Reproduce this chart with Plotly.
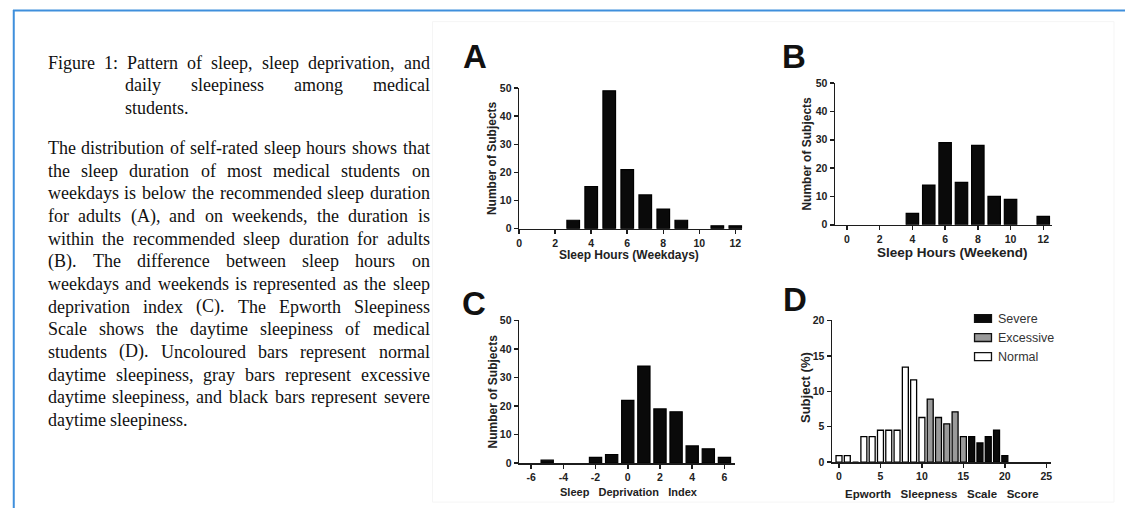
import plotly.graph_objects as go

W, H = 1126, 514

# ---------------- data ----------------
weekday_hours = [3, 4, 5, 6, 7, 8, 9, 11, 12]
weekday_counts = [3, 15, 49, 21, 12, 7, 3, 1, 1]

weekend_hours = [4, 5, 6, 7, 8, 9, 10, 12]
weekend_counts = [4, 14, 29, 15, 28, 10, 9, 3]

deprivation_index = [-5, -2, -1, 0, 1, 2, 3, 4, 5, 6]
deprivation_counts = [1, 2, 3, 22, 34, 19, 18, 6, 5, 2]

ess_scores = list(range(0, 21))
ess_percent = [0.9, 0.9, 0.0, 3.6, 3.6, 4.5, 4.5, 4.5, 13.4, 11.6, 6.3,
               8.9, 6.3, 5.4, 7.1, 3.6, 3.6, 2.7, 3.6, 4.5, 0.9]
ess_category = (["Normal"] * 11) + (["Excessive"] * 5) + (["Severe"] * 5)

legend_labels = ["Severe", "Excessive", "Normal"]
category_fill = {"Severe": "#0a0a0a", "Excessive": "#9a9a9a", "Normal": "#ffffff"}

ticks_hours = [0, 2, 4, 6, 8, 10, 12]
ticks_dep = [-6, -4, -2, 0, 2, 4, 6]
ticks_ess = [0, 5, 10, 15, 20, 25]
ticks_count = [0, 10, 20, 30, 40, 50]
ticks_pct = [0, 5, 10, 15, 20]

caption_para1 = [
    "Figure 1: Pattern of sleep, sleep deprivation, and",
    "daily sleepiness among medical",
    "students.",
]
caption_para2 = [
    "The distribution of self-rated sleep hours shows that",
    "the sleep duration of most medical students on",
    "weekdays is below the recommended sleep duration",
    "for adults (A), and on weekends, the duration is",
    "within the recommended sleep duration for adults",
    "(B). The difference between sleep hours on",
    "weekdays and weekends is represented as the sleep",
    "deprivation index (C). The Epworth Sleepiness",
    "Scale shows the daytime sleepiness of medical",
    "students (D). Uncoloured bars represent normal",
    "daytime sleepiness, gray bars represent excessive",
    "daytime sleepiness, and black bars represent severe",
    "daytime sleepiness.",
]

# ---------------- helpers ----------------
def fx(px):
    return px / W

def fy(py):
    return 1 - py / H

SANS = "Liberation Sans"
SERIF = "Liberation Serif"
INK = "#1c1c1c"

# Times-Roman advance widths (1/1000 em) for justification
TW = {' ': 250, '(': 333, ')': 333, ',': 250, '-': 333, '.': 250, ':': 278,
      '0': 500, '1': 500, '2': 500, '3': 500, '4': 500, '5': 500, '6': 500,
      '7': 500, '8': 500, '9': 500,
      'A': 722, 'B': 667, 'C': 667, 'D': 722, 'E': 611, 'F': 556, 'G': 722,
      'H': 722, 'I': 333, 'J': 389, 'K': 722, 'L': 611, 'M': 889, 'N': 722,
      'O': 722, 'P': 556, 'Q': 722, 'R': 667, 'S': 556, 'T': 611, 'U': 722,
      'V': 722, 'W': 944, 'X': 722, 'Y': 722, 'Z': 611,
      'a': 444, 'b': 500, 'c': 444, 'd': 500, 'e': 444, 'f': 333, 'g': 500,
      'h': 500, 'i': 278, 'j': 278, 'k': 500, 'l': 278, 'm': 778, 'n': 500,
      'o': 500, 'p': 500, 'q': 500, 'r': 333, 's': 389, 't': 278, 'u': 500,
      'v': 500, 'w': 722, 'x': 500, 'y': 500, 'z': 444}

def word_width(word, fs):
    return sum(TW.get(c, 500) for c in word) * fs / 1000.0

annotations = []
shapes = []

FS_TEXT = 18

def add_line(text, left, right, baseline, justify):
    words = text.split()
    widths = [word_width(w, FS_TEXT) for w in words]
    if justify and len(words) > 1:
        gap = (right - left - sum(widths)) / (len(words) - 1)
    else:
        gap = word_width(" ", FS_TEXT)
    x = left
    yc = baseline - 0.3375 * FS_TEXT
    for w, wd in zip(words, widths):
        annotations.append(dict(
            text=w, x=fx(x), y=fy(yc), xref="paper", yref="paper",
            xanchor="left", yanchor="middle", showarrow=False,
            borderpad=0, borderwidth=0,
            font=dict(family=SERIF, size=FS_TEXT, color="#111111")))
        x += wd + gap

LEFT, RIGHT, HANG = 45, 428, 122
LS = 23.2
for i, line in enumerate(caption_para1):
    left = LEFT if i == 0 else HANG
    add_line(line, left, RIGHT, 64 + i * LS, justify=(i < len(caption_para1) - 1))
for i, line in enumerate(caption_para2):
    add_line(line, LEFT, RIGHT, 151.5 + i * LS, justify=(i < len(caption_para2) - 1))

def ann(text, px, py, size, bold=True, angle=0, color="#222222", family=SANS,
        xanchor="center"):
    annotations.append(dict(
        text=text, x=fx(px), y=fy(py), xref="paper", yref="paper",
        xanchor=xanchor, yanchor="middle", showarrow=False, textangle=angle,
        borderpad=0, borderwidth=0,
        font=dict(family=family, size=size, color=color,
                  weight="bold" if bold else "normal")))

# panel letters
ann("A", 474, 51.5, 33, color="#111111")
ann("B", 794, 52, 33, color="#111111")
ann("C", 473, 304.5, 33, color="#111111")
ann("D", 795, 301, 33, color="#111111")

# axis titles
NB = "\u00a0"
ann("Sleep Hours (Weekdays)", 628, 255, 12)
ann("Sleep Hours (Weekend)", 953, 252, 13.5)
ann("Sleep" + NB * 3 + "Deprivation" + NB * 3 + "Index", 628, 497.5, 11)
ann("Epworth" + NB * 3 + "Sleepness" + NB * 3 + "Scale" + NB * 3 + "Score",
    942.5, 500, 11.5)
ann("Number of Subjects", 491.5, 156, 12, angle=-90)
ann("Number of Subjects", 806.5, 151.5, 12, angle=-90)
ann("Number of Subjects", 491.5, 395, 12, angle=-90)
ann("Subject (%)", 806, 391, 13, angle=-90)

# ---------------- figure ----------------
fig = go.Figure()

bar_line = dict(color="#000000", width=1.2)
fig.add_trace(go.Bar(x=weekday_hours, y=weekday_counts, width=0.7,
                     marker=dict(color="#0a0a0a", line=bar_line),
                     xaxis="x", yaxis="y", showlegend=False))
fig.add_trace(go.Bar(x=weekend_hours, y=weekend_counts, width=0.76,
                     marker=dict(color="#0a0a0a", line=bar_line),
                     xaxis="x2", yaxis="y2", showlegend=False))
fig.add_trace(go.Bar(x=deprivation_index, y=deprivation_counts, width=0.76,
                     marker=dict(color="#0a0a0a", line=bar_line),
                     xaxis="x3", yaxis="y3", showlegend=False))
for cat in ["Normal", "Excessive", "Severe"]:
    xs = [s for s, c in zip(ess_scores, ess_category) if c == cat]
    ys = [p for p, c in zip(ess_percent, ess_category) if c == cat]
    fig.add_trace(go.Bar(x=xs, y=ys, width=0.72, name=cat,
                         marker=dict(color=category_fill[cat],
                                     line=dict(color="#000000", width=1.3)),
                         xaxis="x4", yaxis="y4", showlegend=False))

# manual legend (Prism style wide swatches)
for i, lab in enumerate(legend_labels):
    yc = 320 + i * 19.5
    shapes.append(dict(type="rect", xref="paper", yref="paper",
                       x0=fx(975), x1=fx(992), y0=fy(yc + 4), y1=fy(yc - 4),
                       fillcolor=category_fill[lab],
                       line=dict(color="#111111", width=1.3)))
    ann(lab, 999, yc, 12.5, bold=False, color="#333333", xanchor="left")

# blue page border and faint image frame
shapes.append(dict(type="line", xref="paper", yref="paper",
                   x0=fx(10), x1=1, y0=fy(4.7), y1=fy(4.7),
                   line=dict(color="#3f8fdc", width=2)))
shapes.append(dict(type="line", xref="paper", yref="paper",
                   x0=fx(10.8), x1=fx(10.8), y0=fy(4), y1=0,
                   line=dict(color="#3f8fdc", width=2)))
shapes.append(dict(type="rect", xref="paper", yref="paper",
                   x0=fx(431), x1=fx(1115), y0=fy(508), y1=fy(16),
                   line=dict(color="#f5f5f5", width=1)))

def axis_style(tickvals, **kw):
    d = dict(showline=True, linecolor=INK, linewidth=1.5, ticks="outside",
             ticklen=4, tickwidth=1.5, tickcolor=INK, showgrid=False,
             zeroline=False, fixedrange=True,
             tickfont=dict(family=SANS, size=10.5, color="#222222",
                           weight="bold"),
             tickmode="array", tickvals=tickvals,
             ticktext=[str(v) for v in tickvals])
    d.update(kw)
    return d

fig.update_layout(
    width=W, height=H, margin=dict(l=0, r=0, t=0, b=0),
    paper_bgcolor="white", plot_bgcolor="white",
    barmode="overlay", showlegend=False, hovermode=False,
    xaxis=axis_style(ticks_hours, domain=[fx(518), fx(742)], range=[0, 12.39],
                     anchor="y"),
    yaxis=axis_style(ticks_count, domain=[fy(228), fy(84)], range=[0, 50],
                     anchor="x"),
    xaxis2=axis_style(ticks_hours, domain=[fx(835), fx(1053)],
                      range=[-0.73, 12.55], anchor="y2"),
    yaxis2=axis_style(ticks_count, domain=[fy(224), fy(79)], range=[0, 50],
                      anchor="x2"),
    xaxis3=axis_style(ticks_dep, domain=[fx(518), fx(735)],
                      range=[-6.74, 6.68], anchor="y3"),
    yaxis3=axis_style(ticks_count, domain=[fy(468), fy(322)], range=[0, 50],
                      anchor="x3"),
    xaxis4=axis_style(ticks_ess, domain=[fx(832), fx(1052)],
                      range=[-0.84, 25.6], anchor="y4"),
    yaxis4=axis_style(ticks_pct, domain=[fy(467), fy(322)], range=[0, 20],
                      anchor="x4"),
    annotations=annotations,
    shapes=shapes,
)

fig.write_html("out.html",
               config={"displayModeBar": False, "staticPlot": True},
               post_script="document.body.style.margin='0';"
                           "document.body.style.overflow='hidden';")
